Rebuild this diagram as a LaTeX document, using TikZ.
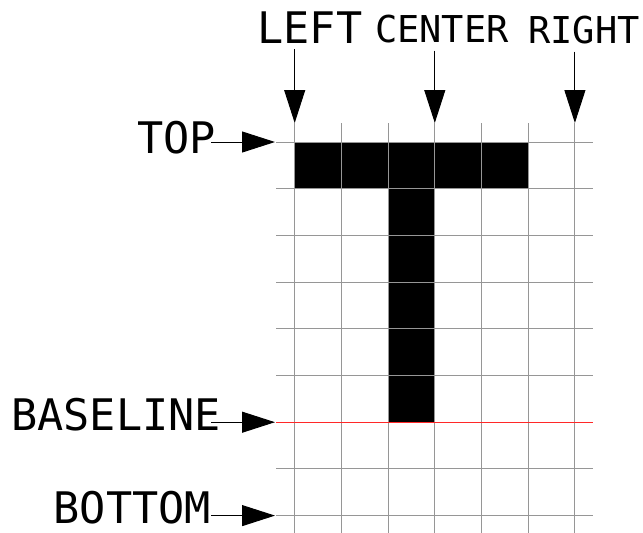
\documentclass[tikz,border=0pt]{standalone}
\usepackage{fontspec}
\setmainfont{DejaVu Sans Mono}
\usetikzlibrary{arrows.meta,positioning}
\usepackage{xcolor}
\definecolor{GridGray}{RGB}{150,150,150}
\definecolor{BaseRed}{RGB}{255,40,40}
\tikzset{
  gridline/.style={GridGray, line width=1pt},
  baseredline/.style={BaseRed, line width=1pt},
  pixel/.style={fill=black},
  biglabel/.style={font=\fontsize{43.5}{43.5}\selectfont, inner sep=0pt},
  smalllabel/.style={font=\fontsize{37}{37}\selectfont, inner sep=0pt},
  pointer/.style={-{Triangle[length=33pt,width=21pt]}, line width=1pt}
}

\begin{document}
\begin{tikzpicture}[x=1pt,y=-1pt]
      \useasboundingbox (0,0) rectangle (643,533);
      \def\cs{46.7}
      \foreach \i in {0,...,6}
        \coordinate (col\i) at ({294.7+\cs*\i},142);
      \foreach \j in {0,...,8}
        \coordinate (row\j) at (294.7,{142+\cs*\j});
      % the letter
      \foreach \i in {0,...,4}
        \fill[pixel] ({294.7+\cs*\i},142) rectangle ++(\cs,\cs);
      \foreach \j in {1,...,5}
        \fill[pixel] ({294.7+\cs*2},{142+\cs*\j}) rectangle ++(\cs,\cs);
      % grid
      \foreach \i in {0,...,6}
        \draw[gridline] ([yshift=19pt]col\i) -- ++(0,410);
      \foreach \j in {0,...,8}
        \draw[gridline] ([xshift=-18.7pt]row\j) -- ++(317,0);
      \draw[baseredline] ([xshift=-18.7pt]row6) -- ++(317,0);
      % labels
      \node[biglabel,anchor=base] (lleft) at (310,43) {LEFT};
      \node[smalllabel,anchor=base] (lcenter) at (442,42) {CENTER};
      \node[smalllabel,anchor=base] (lright) at (584,43) {RIGHT};
      \node[biglabel,anchor=base east] (ltop) at (216,153) {TOP};
      \node[biglabel,anchor=base east] (lbase) at (221,430) {BASELINE};
      \node[biglabel,anchor=base east] (lbottom) at (211,523) {BOTTOM};
      \coordinate (tleft) at ([yshift=19pt]col0);
      \coordinate (tcenter) at ([yshift=19pt]col3);
      \coordinate (tright) at ([yshift=19pt]col6);
      \coordinate (ttop) at ([xshift=-19.7pt]row0);
      \coordinate (tbase) at ([xshift=-19.7pt]row6);
      \coordinate (tbottom) at ([xshift=-19.7pt]row8);
      \draw[pointer, shorten <=6pt] (lleft.south -| tleft) -- (tleft);
      \draw[pointer, shorten <=8pt] (lcenter.south -| tcenter) -- (tcenter);
      \draw[pointer, shorten <=8pt] (lright.south -| tright) -- (tright);
      \draw[pointer] ([xshift=-5pt]ltop.east |- ttop) -- (ttop);
      \draw[pointer] ([xshift=-10pt]lbase.east |- tbase) -- (tbase);
      \draw[pointer] (lbottom.east |- tbottom) -- (tbottom);
    \end{tikzpicture}
\end{document}
